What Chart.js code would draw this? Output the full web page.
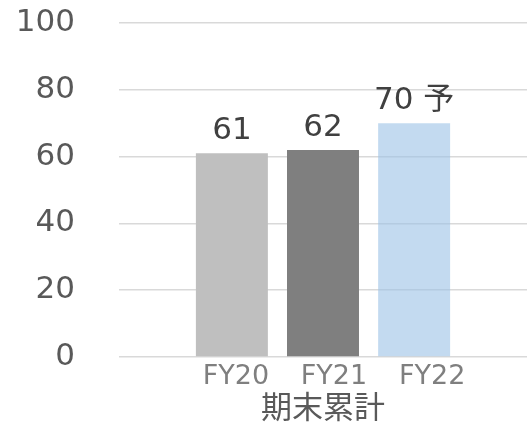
<!DOCTYPE html>
<html>
<head>
<meta charset="utf-8">
<script src="https://cdn.jsdelivr.net/npm/chart.js@4"></script>
<style>
  html, body { margin: 0; padding: 0; background: #fff; }
  #wrap { width: 527px; height: 423px; }
</style>
</head>
<body>
<div id="wrap"><canvas id="chart" width="527" height="423"></canvas></div>
<script>
const category = ["期末累計"];
const years = ["FY20", "FY21", "FY22"];
const values = [61, 62, 70];
const suffix = ["", "", " 予"];
const colors = ["#bfbfbf", "#7f7f7f", "rgba(155,194,230,0.6)"];
const yTicks = [0, 20, 40, 60, 80, 100];

const font = "'DejaVu Sans', 'Noto Sans CJK JP', sans-serif";

// labels above bars and year names under them
const barLabels = {
  id: "barLabels",
  afterDatasetsDraw(chart) {
    const ctx = chart.ctx;
    ctx.save();
    ctx.textAlign = "center";
    ctx.textBaseline = "alphabetic";
    chart.data.datasets.forEach((ds, i) => {
      const bar = chart.getDatasetMeta(i).data[0];
      ctx.fillStyle = "#404040";
      ctx.font = "31px " + font;
      ctx.fillText(ds.data[0] + suffix[i], bar.x, bar.y - 14);
      // year names sit a bit wider apart than the bars, like the original
      ctx.fillStyle = "#7f7f7f";
      ctx.font = "27px " + font;
      ctx.fillText(ds.label, bar.x + 4 + i * 7, chart.chartArea.bottom + 27);
    });
    ctx.restore();
  }
};

const datasets = years.map((y, i) => ({
  label: y,
  data: [values[i]],
  backgroundColor: colors[i],
  borderWidth: 0,
  categoryPercentage: 0.67,
  barPercentage: 0.79
}));

new Chart(document.getElementById("chart"), {
  type: "bar",
  data: { labels: category, datasets: datasets },
  plugins: [barLabels],
  options: {
    responsive: false,
    animation: false,
    layout: { padding: { top: 23, left: 0, right: 0, bottom: 0 } },
    plugins: {
      legend: { display: false },
      tooltip: { enabled: false }
    },
    scales: {
      x: {
        grid: { display: false, drawTicks: false },
        border: { display: false },
        ticks: { color: "#595959", font: { family: font, size: 31 }, padding: 34 },
        afterFit: (s) => { s.height = 66; s.paddingLeft = 0; s.paddingRight = 0; }
      },
      y: {
        min: 0,
        max: 100,
        afterBuildTicks: (s) => { s.ticks = yTicks.map(v => ({ value: v })); },
        grid: { color: "#d9d9d9", lineWidth: 1.5, drawTicks: false },
        border: { display: false },
        ticks: { color: "#595959", font: { family: font, size: 31 }, padding: 44 },
        afterFit: (s) => { s.width = 119; s.paddingTop = 0; s.paddingBottom = 0; }
      }
    }
  }
});
</script>
</body>
</html>
